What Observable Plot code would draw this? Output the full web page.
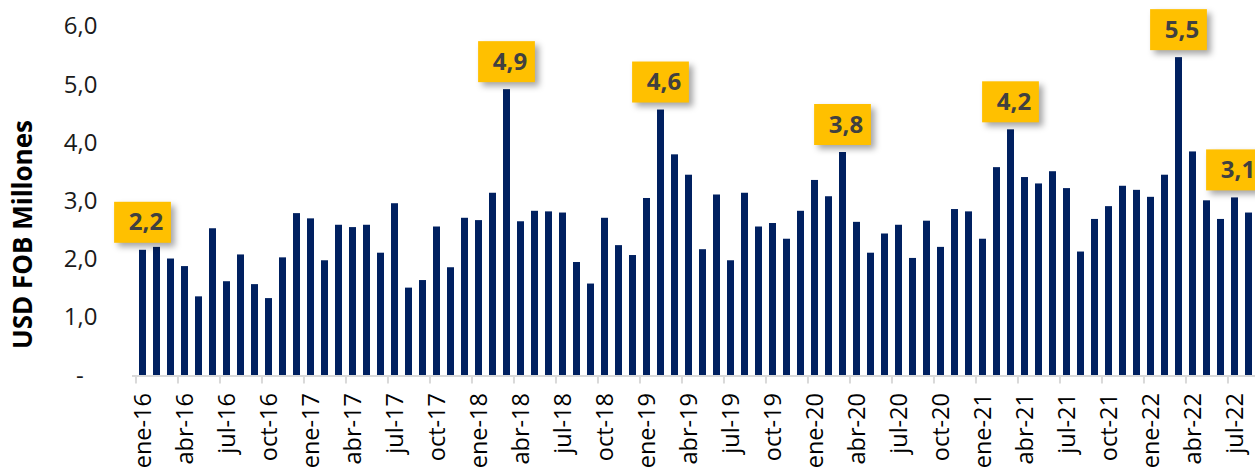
<!DOCTYPE html>
<html><head><meta charset="utf-8">
<script src="https://cdn.jsdelivr.net/npm/d3@7"></script>
<script src="https://cdn.jsdelivr.net/npm/@observablehq/plot@0.6"></script>
<style>html,body{margin:0;padding:0;background:#fff;} svg{display:block;}</style>
</head><body><div id="chart"></div>
<script>
const monthNames = ["ene","feb","mar","abr","may","jun","jul","ago","sep","oct","nov","dic"];
const years = ["16","17","18","19","20","21","22"];
const v2016 = [2.16,2.21,2.01,1.88,1.36,2.53,1.62,2.08,1.57,1.33,2.03,2.79];
const v2017 = [2.70,1.98,2.59,2.55,2.59,2.11,2.96,1.51,1.64,2.56,1.86,2.71];
const v2018 = [2.67,3.14,4.92,2.65,2.83,2.82,2.80,1.95,1.58,2.71,2.24,2.07];
const v2019 = [3.05,4.57,3.80,3.45,2.17,3.11,1.98,3.14,2.56,2.62,2.35,2.83];
const v2020 = [3.36,3.08,3.84,2.64,2.11,2.44,2.59,2.02,2.66,2.21,2.86,2.82];
const v2021 = [2.35,3.58,4.23,3.41,3.30,3.51,3.22,2.13,2.69,2.91,3.26,3.19];
const v2022 = [3.07,3.45,5.47,3.85,3.01,2.69,3.06,2.80];
const yearValues = [v2016,v2017,v2018,v2019,v2020,v2021,v2022];
const calloutMonths = ["ene-16","mar-18","feb-19","mar-20","mar-21","mar-22","jul-22"];
const yTicks = [0,1,2,3,4,5,6];
const yTitle = "USD FOB Millones";

const data = [];
years.forEach((yy, yi) => yearValues[yi].forEach((v, mi) => data.push({m: monthNames[mi] + "-" + yy, mi, v})));
const categories = data.map(d => d.m);
const tickCats = data.filter(d => d.mi % 3 === 0).map(d => d.m);
const callouts = data.filter(d => calloutMonths.includes(d.m));
const fmt = v => v.toFixed(1).replace(".", ",");

const x0 = 132, x1 = 1258.4;
const step = (x1 - x0) / categories.length;
const px = 58.2; // pixels per unit
const baseY = 375.5;

const chart = Plot.plot({
  width: 1255, height: 468,
  marginLeft: 132, marginRight: 0, marginTop: 0, marginBottom: 468 - baseY,
  style: {fontFamily: "'Open Sans', sans-serif", background: "#fff", overflow: "hidden"},
  x: {domain: categories, range: [x0, x1], paddingInner: 0.48, paddingOuter: 0.24, axis: null, label: null},
  y: {domain: [0, 6], range: [baseY, 26.3], axis: null, label: null},
  marks: [
    Plot.barY(data, {x: "m", y: "v", fill: "#002060"}),
    Plot.ruleY([0], {stroke: "#d9d9d9", strokeWidth: 2}),
    Plot.axisX({ticks: tickCats, tickSize: 8, tickFormat: () => "", dx: -step / 2, stroke: "#d9d9d9", strokeWidth: 2, label: null}),
    Plot.axisX({ticks: tickCats, tickSize: 0, tickPadding: 17, tickRotate: -90, fontSize: 23.5, fill: "#000", label: null}),
    Plot.axisY({ticks: yTicks, tickSize: 0, tickPadding: 35, fontSize: 24, fill: "#1a1a1a", label: null,
      tickFormat: d => d === 0 ? "-\u2007" : fmt(d)}),
    Plot.text([yTitle], {frameAnchor: "left", textAnchor: "middle", dx: -109, dy: 234 - baseY / 2, rotate: -90, fontSize: 26, fontWeight: "bold", fill: "#000"}),
    Plot.barY(callouts, {x: "m", y1: d => d.v + 7 / px, y2: d => d.v + 48 / px, fill: "#FFC000", insetLeft: -24.9, insetRight: -24.9}),
    Plot.text(callouts, {x: "m", y: d => d.v + 27.5 / px, text: d => fmt(d.v), fontSize: 24, fontWeight: "bold", fill: "#404040", dx: 3})
  ]
});
document.getElementById("chart").appendChild(chart);
const barGroups = chart.querySelectorAll('g[aria-label="bar"]');
if (barGroups.length > 1) barGroups[1].style.filter = "drop-shadow(4px 4px 3px rgba(0,0,0,0.35))";
</script>
</body></html>
